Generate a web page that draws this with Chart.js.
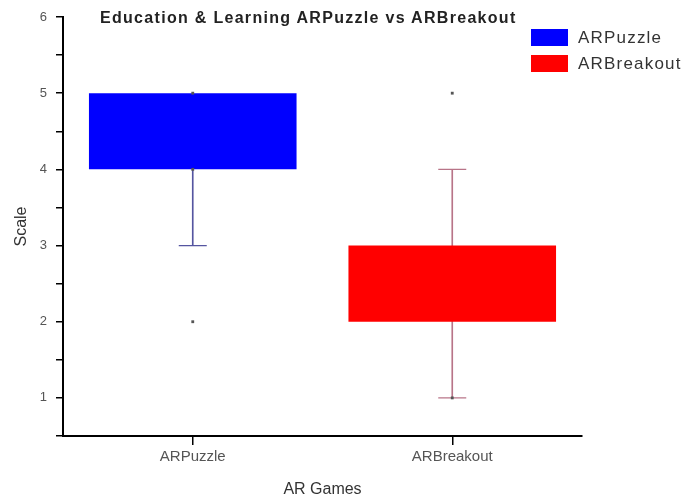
<!DOCTYPE html>
<html>
<head>
<meta charset="utf-8">
<script src="https://cdn.jsdelivr.net/npm/chart.js@4/dist/chart.umd.min.js"></script>
<style>
  body { margin: 0; background: #fff; }
  #wrap { position: relative; width: 688px; height: 504px; font-family: "Liberation Sans", Arial, sans-serif; }
  #title {
    position: absolute; left: 100px; top: 10px; line-height: 16px;
    font-size: 16px; font-weight: bold; color: #222; letter-spacing: 1.3px; white-space: nowrap;
  }
  #legend { position: absolute; left: 531px; top: 29px; }
  .item { display: flex; align-items: center; height: 17px; margin-bottom: 9px; white-space: nowrap; }
  .swatch { width: 37px; height: 17px; margin-right: 10px; }
  .item span { font-size: 17px; color: #333; letter-spacing: 1.2px; }
</style>
</head>
<body>
<div id="wrap">
  <canvas id="box-chart" width="688" height="504"></canvas>
  <div id="title">Education &amp; Learning ARPuzzle vs ARBreakout</div>
  <div id="legend"></div>
</div>
<script>
const games = ['ARPuzzle', 'ARBreakout'];
const boxLow = [4, 2];        // lower quartile
const boxHigh = [5, 3];       // upper quartile
const whiskerLow = [3, 1];
const whiskerHigh = [5, 4];
const puzzlePoints = [5, 4, 2];
const breakoutPoints = [5, 1];
const yTicks = [1, 2, 3, 4, 5, 6];

const boxColors = ['#0000ff', '#ff0000'];
const whiskerColors = ['#5555a0', '#b87488'];

//-------------------------------------------------//

const boxSets = games.map((g, k) => ({
    type: 'bar',
    label: g,
    data: games.map((_, i) => i === k ? [boxLow[i], boxHigh[i]] : null),
    backgroundColor: boxColors[k],
    grouped: false,
    barPercentage: 0.8,
    categoryPercentage: 1.0,
    order: 0
}));

const capSets = games.map((g, k) => {
    const caps = [];
    if (whiskerLow[k] < boxLow[k]) caps.push({x: g, y: whiskerLow[k]});
    if (whiskerHigh[k] > boxHigh[k]) caps.push({x: g, y: whiskerHigh[k]});
    return {
        type: 'line',
        data: caps,
        showLine: false,
        pointStyle: 'line',
        pointRadius: 14,
        pointBorderWidth: 1.2,
        pointBorderColor: whiskerColors[k],
        order: 1
    };
});

const pointSet = (g, vals) => ({
    type: 'line',
    data: vals.map(v => ({x: g, y: v})),
    showLine: false,
    pointStyle: 'rect',
    pointRadius: 2,
    pointBackgroundColor: '#555',
    pointBorderColor: '#555',
    pointBorderWidth: 0,
    order: -1
});

const ctx = document.getElementById('box-chart').getContext('2d');
const chart = new Chart(ctx, {
    type: 'bar',
    data: {
        labels: games,
        datasets: [
            ...boxSets,
            {
                type: 'bar',
                data: games.map((_, i) => [whiskerLow[i], whiskerHigh[i]]),
                backgroundColor: whiskerColors,
                barThickness: 1,
                grouped: false,
                order: 1
            },
            ...capSets,
            pointSet(games[0], puzzlePoints),
            pointSet(games[1], breakoutPoints)
        ]
    },
    options: {
        responsive: false,
        animation: false,
        devicePixelRatio: 1,
        layout: { padding: { top: 17, right: 106, left: 0, bottom: 0 } },
        plugins: {
            legend: { display: false },
            title: { display: false },
            tooltip: { enabled: false }
        },
        scales: {
            x: {
                type: 'category',
                offset: true,
                grid: { drawOnChartArea: false, drawTicks: true, tickLength: 9, color: '#000', offset: false, lineWidth: 1.5 },
                border: { color: '#000', width: 2 },
                ticks: { color: '#555', font: { size: 15 }, padding: 3 },
                title: { display: true, text: 'AR Games', color: '#333', font: { size: 16 }, padding: { top: 0, bottom: 5 } },
                afterFit: s => { s.height = 68; }
            },
            y: {
                min: 0.5,
                max: 6,
                grid: { drawOnChartArea: false, drawTicks: true, tickLength: 7, color: '#000', lineWidth: 1.5 },
                border: { color: '#000', width: 2 },
                ticks: {
                    stepSize: 0.5,
                    autoSkip: false,
                    color: '#555',
                    font: { size: 13 },
                    padding: 9,
                    callback: v => yTicks.includes(v) ? String(v) : ''
                },
                title: { display: true, text: 'Scale', color: '#333', font: { size: 16 }, padding: { top: 12, bottom: 0 } },
                afterFit: s => { s.width = 63; }
            }
        }
    }
});

// legend built from the box datasets
const legend = document.getElementById('legend');
boxSets.forEach(ds => {
    const item = document.createElement('div');
    item.className = 'item';
    item.innerHTML = '<div class="swatch" style="background:' + ds.backgroundColor + '"></div><span>' + ds.label + '</span>';
    legend.appendChild(item);
});
</script>
</body>
</html>
